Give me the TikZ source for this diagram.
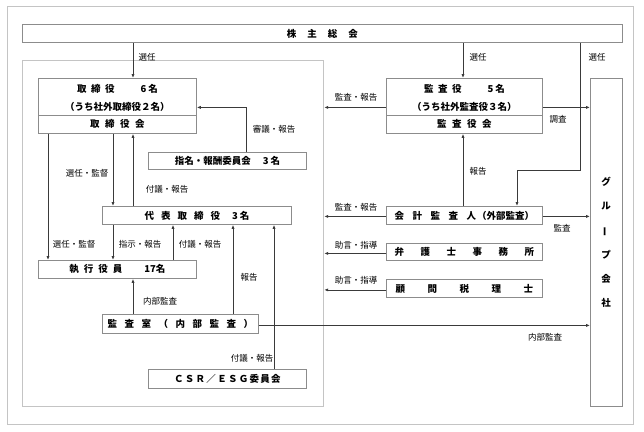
\documentclass[tikz,border=0pt]{standalone}
\usepackage{fontspec}
\newfontfamily\jp{Noto Sans CJK JP}
\usetikzlibrary{arrows.meta,calc}
\definecolor{boxc}{HTML}{8C8C8C}
\definecolor{linec}{HTML}{3A3A3A}
\definecolor{framec}{HTML}{C4C4C4}
\tikzset{
  box/.style={draw=boxc, line width=0.8pt, fill=white, inner sep=0pt, anchor=north west,
    font=\jp\bfseries\fontsize{9.5}{11}\selectfont},
  btxt/.style={inner sep=0pt, font=\jp\bfseries\fontsize{9.5}{11}\selectfont},
  lbl/.style={inner sep=0pt, font=\jp\fontsize{8.5}{9}\selectfont},
  arr/.style={draw=linec, line width=0.8pt, -{Latex[length=4pt,width=3.2pt]}},
  divline/.style={draw=boxc, line width=0.8pt},
  framebox/.style={draw=framec, line width=1.2pt, inner sep=0pt, anchor=north west},
}
\begin{document}
\begin{tikzpicture}[x=1pt,y=-1pt]
\useasboundingbox (0,0) rectangle (644,431);
\fill[white] (0,0) rectangle (644,431);
% frames
\node[framebox, minimum width=626pt, minimum height=418pt] (outer) at (7,6) {};
\node[framebox, minimum width=301pt, minimum height=346pt] (inner) at (22,60) {};
% boxes
\node[box, minimum width=600pt, minimum height=18pt] (sh) at (22,24) {株\hspace{11pt}主\hspace{11pt}総\hspace{11pt}会};
\node[box, minimum width=158pt, minimum height=55pt] (tori) at (38,78) {};
\draw[divline] ($(tori.north west)+(0,37)$) -- ($(tori.north east)+(0,37)$);
\node[btxt] (tori1) at ($(tori.north)+(0,11)$) {取\hspace{4.5pt}締\hspace{4.5pt}役\hspace{26pt}6\hspace{2pt}名};
\node[btxt] (tori2) at ($(tori.north)+(0,29)$) {（うち社外取締役２名）};
\node[btxt] (tori3) at ($(tori.north)+(0,46)$) {取\hspace{5.5pt}締\hspace{5.5pt}役\hspace{5.5pt}会};
\node[box, minimum width=156pt, minimum height=55pt] (kansa) at (386,78) {};
\draw[divline] ($(kansa.north west)+(0,37)$) -- ($(kansa.north east)+(0,37)$);
\node[btxt] (kansa1) at ($(kansa.north)+(0,11)$) {監\hspace{4.5pt}査\hspace{4.5pt}役\hspace{26pt}5\hspace{2pt}名};
\node[btxt] (kansa2) at ($(kansa.north)+(0,29)$) {（うち社外監査役３名）};
\node[btxt] (kansa3) at ($(kansa.north)+(0,46)$) {監\hspace{5.5pt}査\hspace{5.5pt}役\hspace{5.5pt}会};
\node[box, minimum width=158pt, minimum height=17pt] (shimei) at (148,152) {指名・報酬委員会\hspace{12pt}3\hspace{2pt}名};
\node[box, minimum width=189pt, minimum height=18pt] (daihyo) at (102,206) {代\hspace{7pt}表\hspace{7pt}取\hspace{7pt}締\hspace{7pt}役\hspace{12pt}3\hspace{2pt}名};
\node[box, minimum width=158pt, minimum height=18pt] (shikko) at (38,260) {執\hspace{5pt}行\hspace{5pt}役\hspace{5pt}員\hspace{22pt}17名};
\node[box, minimum width=156pt, minimum height=19pt] (kansashitsu) at (102,314) {監\hspace{7.5pt}査\hspace{7.5pt}室\hspace{7.5pt}（\hspace{7.5pt}内\hspace{7.5pt}部\hspace{7.5pt}監\hspace{7.5pt}査\hspace{7.5pt}）};
\node[box, minimum width=158pt, minimum height=19pt] (csr) at (148,369) {Ｃ\hspace{1.3pt}Ｓ\hspace{1.3pt}Ｒ\hspace{1.3pt}／\hspace{1.3pt}Ｅ\hspace{1.3pt}Ｓ\hspace{1.3pt}Ｇ\hspace{1.3pt}委\hspace{1.3pt}員\hspace{1.3pt}会};
\node[box, minimum width=156pt, minimum height=18pt] (kaikei) at (386,206) {会\hspace{8.5pt}計\hspace{8.5pt}監\hspace{8.5pt}査\hspace{8.5pt}人\hspace{1pt}（外部監査）};
\node[box, minimum width=156pt, minimum height=17pt] (bengo) at (386,243) {弁\hspace{16.5pt}護\hspace{16.5pt}士\hspace{16.5pt}事\hspace{16.5pt}務\hspace{16.5pt}所};
\node[box, minimum width=156pt, minimum height=18pt] (komon) at (386,279) {顧\hspace{22.5pt}問\hspace{22.5pt}税\hspace{22.5pt}理\hspace{22.5pt}士};
\node[box, minimum width=32pt, minimum height=328pt] (group) at (590,78) {};
\node[btxt, align=center, font=\jp\bfseries\fontsize{9.5}{24.2}\selectfont] (grouptxt) at (606,242.5) {グ\\ル\\\rotatebox[origin=c]{90}{ー}\\プ\\会\\社};
% connectors
\draw[arr] ([xshift=111pt]sh.south west) coordinate (p) -- (p |- tori.north);
\draw[arr] ([xshift=441pt]sh.south west) coordinate (p) -- (p |- kansa.north);
\draw[arr] ([xshift=558pt]sh.south west) coordinate (p) -- ++(0,128) -| ([xshift=131pt]kaikei.north west);
\draw[arr] ([yshift=-1.5pt]kansa.west) coordinate (p) -- (p -| inner.east);
\draw[arr] ([yshift=-1.5pt]kansa.east) coordinate (p) -- (p -| group.west);
\draw[arr] ([xshift=98pt]shimei.north west) |- ([yshift=-1.5pt]tori.east);
\draw[arr] ([xshift=10pt]tori.south west) coordinate (p) -- (p |- shikko.north);
\draw[arr] ([xshift=75pt]tori.south west) coordinate (p) -- (p |- daihyo.north);
\draw[arr] ([xshift=31pt]daihyo.north west) coordinate (p) -- (p |- tori.south);
\draw[arr] ([xshift=11pt]daihyo.south west) coordinate (p) -- (p |- shikko.north);
\draw[arr] ([xshift=135pt]shikko.north west) coordinate (p) -- (p |- daihyo.south);
\draw[arr] ([xshift=31pt]kansashitsu.north west) coordinate (p) -- (p |- shikko.south);
\draw[arr] ([xshift=131pt]kansashitsu.north west) coordinate (p) -- (p |- daihyo.south);
\draw[arr] ([xshift=126pt]csr.north west) coordinate (p) -- (p |- daihyo.south);
\draw[arr] ([yshift=-1.5pt]kansashitsu.east) coordinate (p) -- (p -| group.west);
\draw[arr] ([xshift=77pt]kaikei.north west) coordinate (p) -- (p |- kansa.south);
\draw[arr] ([yshift=-1pt]kaikei.west) coordinate (p) -- (p -| inner.east);
\draw[arr] ([yshift=-1pt]kaikei.east) coordinate (p) -- (p -| group.west);
\draw[arr] ([yshift=-1.5pt]bengo.west) coordinate (p) -- (p -| inner.east);
\draw[arr] ([yshift=-1.5pt]komon.west) coordinate (p) -- (p -| inner.east);
% labels
\node[lbl] (l1) at (147,57) {選任};
\node[lbl] (l2) at (478,57) {選任};
\node[lbl] (l3) at (597,57) {選任};
\node[lbl] (l4) at (356,97) {監査・報告};
\node[lbl] (l5) at (558,119) {調査};
\node[lbl] (l6) at (274,129) {審議・報告};
\node[lbl] (l7) at (87,173) {選任・監督};
\node[lbl] (l8) at (167,189) {付議・報告};
\node[lbl] (l9) at (478,171) {報告};
\node[lbl] (l10) at (356,207) {監査・報告};
\node[lbl] (l11) at (562,228) {監査};
\node[lbl] (l12) at (74,244) {選任・監督};
\node[lbl] (l13) at (140,244) {指示・報告};
\node[lbl] (l14) at (200,244) {付議・報告};
\node[lbl] (l15) at (356,245) {助言・指導};
\node[lbl] (l16) at (249,277) {報告};
\node[lbl] (l17) at (356,280) {助言・指導};
\node[lbl] (l18) at (160,301) {内部監査};
\node[lbl] (l19) at (545,337) {内部監査};
\node[lbl] (l20) at (252,358) {付議・報告};
\end{tikzpicture}
\end{document}
